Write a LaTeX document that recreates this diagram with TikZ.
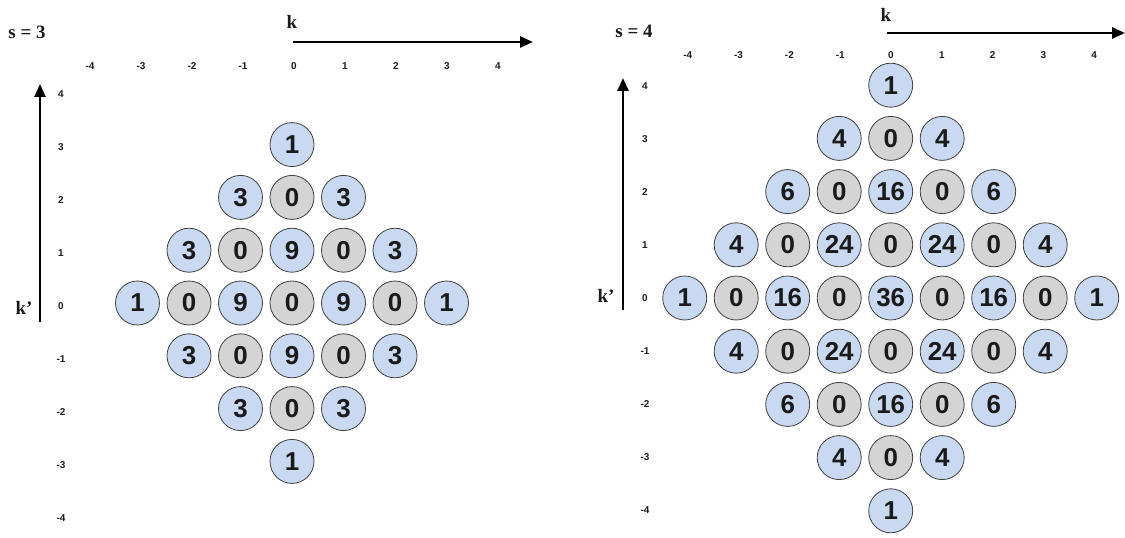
\documentclass[tikz,border=0pt]{standalone}
\usepackage{fontspec}
\setmainfont{Liberation Serif}
\setsansfont{Liberation Sans}
\usetikzlibrary{arrows.meta}
\definecolor{cellblue}{HTML}{C9D9F2}
\definecolor{cellgray}{HTML}{D4D4D4}
\definecolor{ink}{HTML}{1A1A1A}
\newcommand\mkrow[5]{%
  \foreach \v [count=\i from 0] in {#5} {%
    \ifnum\v=0 \def\fc{cellgray}\else\def\fc{cellblue}\fi
    \node[cell, fill=\fc] (#1-\i) at ({#2+51.5*(\i-#4)}, #3) {\v};
  }}
\tikzset{
  cell/.style={circle, draw=black!75, line width=0.8bp, minimum size=44bp, inner sep=0pt,
    font=\sffamily\bfseries\fontsize{26}{26}\selectfont, text=ink},
  tick/.style={font=\sffamily\bfseries\fontsize{10}{10}\selectfont, text=ink, inner sep=0pt},
  axlabel/.style={font=\rmfamily\bfseries\fontsize{19}{19}\selectfont, text=ink, inner sep=0pt},
  axis/.style={line width=2.6bp, -{Triangle[length=13bp,width=11bp]}}
}
\begin{document}
\begin{tikzpicture}[x=1bp,y=-1bp]
\useasboundingbox (0,0) rectangle (1125,538);
% ---------------- s = 3 ----------------
\node[axlabel] (s3) at (27,32) {s = 3};
\node[axlabel] (kL) at (292,22) {k};
\coordinate (kL0) at (293,42);
\coordinate (kL1) at (533,42);
\draw[axis] (kL0) -- (kL1);
\coordinate (vL0) at (40,322);
\coordinate (vL1) at (40,84);
\draw[axis] (vL0) -- (vL1);
\node[axlabel] (kpL) at (24,308) {k'};
\foreach \k in {-4,...,4} {
  \node[tick] (tL\k) at ({294+51*\k},66) {\k};
  \node[tick] (uL\k) at (61,{306-53.1*\k}) {\k};
}
\mkrow{L3}{292}{144.6}{0}{1}
\mkrow{L2}{292}{197.4}{1}{3,0,3}
\mkrow{L1}{292}{250.2}{2}{3,0,9,0,3}
\mkrow{L0}{292}{303}{3}{1,0,9,0,9,0,1}
\mkrow{Lm1}{292}{355.8}{2}{3,0,9,0,3}
\mkrow{Lm2}{292}{408.6}{1}{3,0,3}
\mkrow{Lm3}{292}{461.4}{0}{1}
% ---------------- s = 4 ----------------
\node[axlabel] (s4) at (634,31) {s = 4};
\node[axlabel] (kR) at (886,15) {k};
\coordinate (kR0) at (887,33);
\coordinate (kR1) at (1125,33);
\draw[axis] (kR0) -- (kR1);
\coordinate (vR0) at (623,310);
\coordinate (vR1) at (623,78);
\draw[axis] (vR0) -- (vR1);
\node[axlabel] (kpR) at (606,296) {k'};
\foreach \k in {-4,...,4} {
  \node[tick] (tR\k) at ({891+50.8*\k},55) {\k};
  \node[tick] (uR\k) at (645,{298-53*\k}) {\k};
}
\mkrow{R4}{890.7}{85.2}{0}{1}
\mkrow{R3}{890.7}{138.4}{1}{4,0,4}
\mkrow{R2}{890.7}{191.6}{2}{6,0,16,0,6}
\mkrow{R1}{890.7}{244.8}{3}{4,0,24,0,24,0,4}
\mkrow{R0}{890.7}{298}{4}{1,0,16,0,36,0,16,0,1}
\mkrow{Rm1}{890.7}{351.2}{3}{4,0,24,0,24,0,4}
\mkrow{Rm2}{890.7}{404.4}{2}{6,0,16,0,6}
\mkrow{Rm3}{890.7}{457.6}{1}{4,0,4}
\mkrow{Rm4}{890.7}{510.8}{0}{1}
\end{tikzpicture}
\end{document}
